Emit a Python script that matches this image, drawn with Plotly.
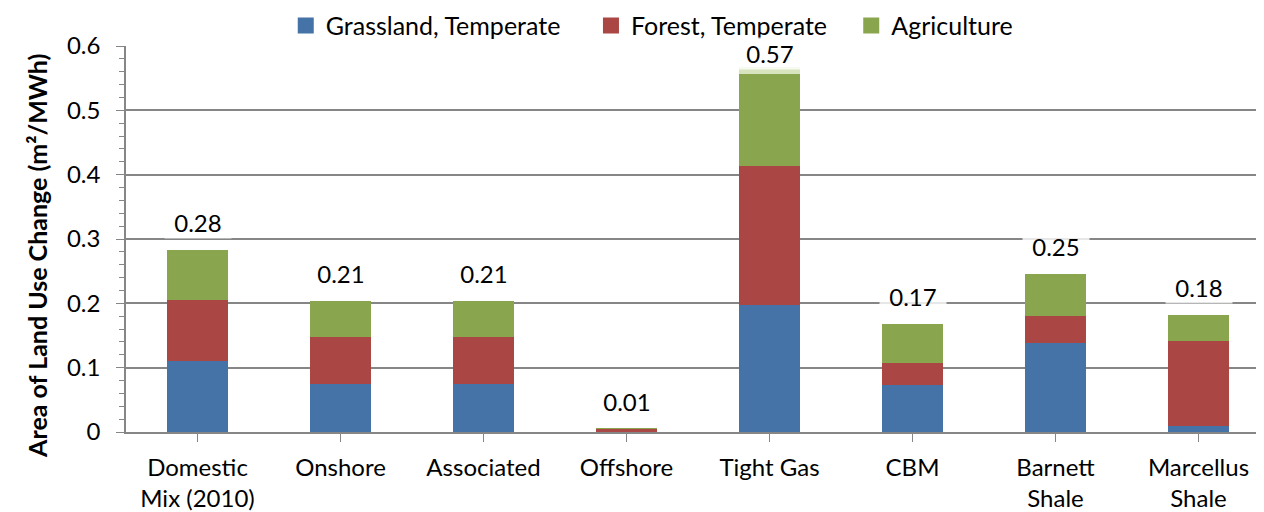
import plotly.graph_objects as go

categories = ["Domestic<br>Mix (2010)", "Onshore", "Associated", "Offshore",
              "Tight Gas", "CBM", "Barnett<br>Shale", "Marcellus<br>Shale"]
grassland = [0.110, 0.075, 0.075, 0.0003, 0.198, 0.073, 0.138, 0.010]
forest = [0.095, 0.072, 0.072, 0.0045, 0.216, 0.035, 0.042, 0.132]
agriculture = [0.078, 0.057, 0.057, 0.0002, 0.143, 0.060, 0.066, 0.040]
other = [0.0, 0.0, 0.0, 0.0, 0.010, 0.0, 0.0, 0.0]
total_labels = ["0.28", "0.21", "0.21", "0.01", "0.57", "0.17", "0.25", "0.18"]
y_title = "<b>Area of Land Use Change (m²/MWh)</b>"

FONT = "Lato"
x = list(range(len(categories)))
fig = go.Figure()
series = [("Grassland, Temperate", grassland, "#4572A7", True),
          ("Forest, Temperate", forest, "#AA4643", True),
          ("Agriculture", agriculture, "#89A54E", True),
          ("Other", other, "#D7E4BD", False)]
pads = {"Grassland, Temperate": "\u00a0" * 4, "Forest, Temperate": "\u00a0" * 3,
        "Agriculture": ""}
for name, vals, col, show in series:
    fig.add_trace(go.Bar(x=x, y=vals, name=name, marker_color=col,
                         marker_line_width=0, width=0.42, showlegend=False))
for name, vals, col, show in series:
    if show:
        fig.add_trace(go.Scatter(x=[None], y=[None], mode="markers",
                                 name=name + pads[name],
                                 marker=dict(symbol="square", size=16, color=col)))

totals = [a + b + c + d for a, b, c, d in zip(grassland, forest, agriculture, other)]
for i, (t, lab) in enumerate(zip(totals, total_labels)):
    fig.add_annotation(x=i, y=min(t + 0.042, 0.588), text=lab, showarrow=False,
                       font=dict(size=24, color="black", family=FONT),
                       bgcolor="rgba(255,255,255,0.8)", borderpad=1,
                       width=64, yanchor="middle")

# y-axis title as a rotated annotation (placed slightly below the plot centre, as in the original)
fig.add_annotation(xref="paper", yref="paper", x=-0.0783, y=0.456, text=y_title,
                   textangle=-90, showarrow=False, xanchor="center", yanchor="middle",
                   font=dict(size=25, family=FONT, color="black"))

fig.update_layout(
    barmode="stack",
    width=1256, height=504,
    margin=dict(l=118, r=0, t=38, b=80, autoexpand=False),
    plot_bgcolor="white", paper_bgcolor="white",
    font=dict(family=FONT, size=24, color="black"),
    legend=dict(orientation="h", x=0.462, xanchor="center", y=1.112, yref="paper",
                yanchor="top", font=dict(size=25, family=FONT),
                traceorder="normal", itemwidth=30, bgcolor="rgba(0,0,0,0)"),
    xaxis=dict(range=[-0.5, 7.458], tickmode="array", tickvals=x, ticktext=categories,
               showline=True, linecolor="#868686", linewidth=1.5,
               ticks="outside", tickson="boundaries", ticklen=8, tickcolor="#868686",
               tickfont=dict(size=24, family=FONT), showgrid=False,
               ticklabelstandoff=5),
    yaxis=dict(range=[0, 0.6], dtick=0.1, tickformat="~g",
               showline=True, linecolor="#868686", linewidth=1.5,
               showgrid=True, gridcolor="#868686", gridwidth=1.5,
               ticks="outside", ticklen=8, tickcolor="#868686",
               minor=dict(dtick=0.02, ticks="outside", ticklen=5, tickcolor="#868686",
                          showgrid=False),
               tickfont=dict(size=24, family=FONT), ticklabelstandoff=11,
               zeroline=False),
)
fig.write_html("out.html")
